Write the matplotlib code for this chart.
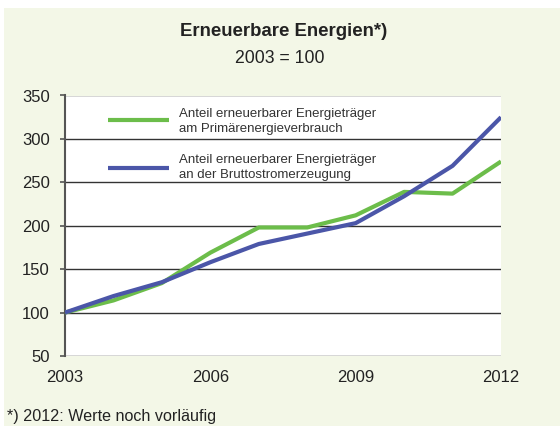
import matplotlib.pyplot as plt
from matplotlib.patches import Rectangle

plt.rcParams['font.family'] = ['Liberation Sans', 'DejaVu Sans']

years = [2003, 2004, 2005, 2006, 2007, 2008, 2009, 2010, 2011, 2012]
primaer = [100, 114, 134, 169, 198, 198, 212, 239, 237, 274]
strom = [100, 119, 135, 158, 179, 191, 203, 234, 269, 325]
label_primaer = ["Anteil erneuerbarer Energieträger", "am Primärenergieverbrauch"]
label_strom = ["Anteil erneuerbarer Energieträger", "an der Bruttostromerzeugung"]
yticks = [50, 100, 150, 200, 250, 300, 350]
xticks = [2003, 2006, 2009, 2012]

W, H = 560, 426
fig = plt.figure(figsize=(W / 100, H / 100), dpi=100)
fig.patch.set_facecolor('white')
bg = Rectangle((4 / W, 0), 1 - 4 / W, 1 - 7.5 / H, transform=fig.transFigure,
               facecolor='#f3f7e7', edgecolor='none', zorder=-10)
fig.patches.append(bg)

left, right, top, bottom = 65, 501, 95.5, 356
ax = fig.add_axes([left / W, 1 - bottom / H, (right - left) / W, (bottom - top) / H])
ax.set_facecolor('white')

green = '#6cbd4a'
blue = '#4b56a8'
ax.plot(years, primaer, color=green, lw=3, solid_capstyle='butt', zorder=3)
ax.plot(years, strom, color=blue, lw=3, solid_capstyle='butt', zorder=3)

ax.set_xlim(2003, 2012)
ax.set_ylim(50, 350)
ax.set_yticks(yticks)
ax.set_xticks(xticks)
ax.set_xticklabels([str(x) for x in xticks])
ax.tick_params(axis='y', labelsize=12, length=3.6, color='#555555', pad=7.5, width=1.2)
ax.tick_params(axis='x', labelsize=12, length=0, pad=10)
for lab in ax.get_xticklabels() + ax.get_yticklabels():
    lab.set_color('#222222')
ax.grid(axis='y', color='#333333', lw=1)
ax.set_axisbelow(True)
for s in ['top', 'right', 'bottom']:
    ax.spines[s].set_visible(False)
ax.spines['left'].set_color('#555555')
ax.spines['left'].set_linewidth(1.5)

# legend drawn manually in axes coordinates
def px(x, y):
    return ((x - left) / (right - left), (bottom - y) / (bottom - top))

for col, ly, lines, b1 in [(green, 120, label_primaer, 116.7), (blue, 168.3, label_strom, 162.8)]:
    x0, y0 = px(108, ly)
    x1, _ = px(169, ly)
    ax.plot([x0, x1], [y0, y0], transform=ax.transAxes, color=col, lw=3, zorder=4,
            solid_capstyle='butt')
    for i, t in enumerate(lines):
        tx, ty = px(179, b1 + i * 15.6)
        ax.text(tx, ty, t, transform=ax.transAxes, fontsize=9.5, color='#333333',
                va='baseline', ha='left', zorder=4)

fig.text(284 / W, 1 - 35.5 / H, "Erneuerbare Energien*)", fontsize=13.4, fontweight='bold',
         ha='center', va='baseline', color='#222222')
fig.text(280 / W, 1 - 62.7 / H, "2003 = 100", fontsize=12.7, ha='center', va='baseline',
         color='#222222')
fig.text(7 / W, 1 - 421 / H, "*) 2012: Werte noch vorläufig", fontsize=11.6, ha='left',
         va='baseline', color='#222222')

fig.savefig('out.png', dpi=100, facecolor=fig.get_facecolor())
